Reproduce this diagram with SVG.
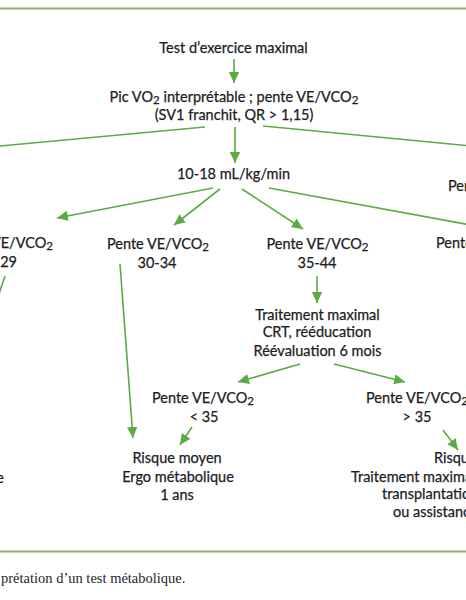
<svg xmlns="http://www.w3.org/2000/svg" width="466" height="600" viewBox="0 0 466 600">
<style>
.t{font-family:Lato,"Open Sans","Noto Sans",sans-serif;font-size:14.5px;fill:#1c1c24;stroke:#1c1c24;stroke-width:0.25;text-anchor:middle}
.s{text-anchor:start}
.e{text-anchor:end}
.sub{font-size:11.5px}
.c{fill:none;stroke:#5aab45;stroke-width:1.6}
.rule{stroke:#8cac62;stroke-width:2}
.cap{font-family:"Liberation Serif","DejaVu Serif",serif;font-size:14.5px;fill:#262626}
</style>
<defs>
<marker id="ah" markerUnits="userSpaceOnUse" markerWidth="12" markerHeight="12" viewBox="0 0 12 12" refX="11" refY="6" orient="auto">
<path d="M0,0.8 L11,6 L0,11.2 Z" fill="#5aab45"/>
</marker>
</defs>
<rect width="466" height="600" fill="#ffffff"/>
<line class="rule" x1="0" y1="8.5" x2="466" y2="8.5"/>
<line class="rule" x1="0" y1="551.5" x2="466" y2="551.5"/>

<g id="connectors">
<line class="c" x1="234" y1="59" x2="234" y2="83" marker-end="url(#ah)"/>
<line class="c" x1="205" y1="127" x2="-5" y2="146.5"/>
<line class="c" x1="263" y1="126" x2="471" y2="146"/>
<line class="c" x1="235" y1="127" x2="235" y2="163" marker-end="url(#ah)"/>
<line class="c" x1="213" y1="188" x2="57" y2="218" marker-end="url(#ah)"/>
<line class="c" x1="220" y1="189" x2="174" y2="225" marker-end="url(#ah)"/>
<line class="c" x1="242" y1="189" x2="303" y2="229" marker-end="url(#ah)"/>
<line class="c" x1="269" y1="188" x2="471" y2="225"/>
<line class="c" x1="5" y1="276" x2="-2" y2="297"/>
<line class="c" x1="120" y1="264" x2="133" y2="438" marker-end="url(#ah)"/>
<line class="c" x1="317" y1="276" x2="317" y2="303" marker-end="url(#ah)"/>
<line class="c" x1="300" y1="364" x2="238" y2="382" marker-end="url(#ah)"/>
<line class="c" x1="334" y1="364" x2="405" y2="382" marker-end="url(#ah)"/>
<line class="c" x1="192" y1="427" x2="180" y2="445" marker-end="url(#ah)"/>
<line class="c" x1="443" y1="430" x2="458" y2="450" marker-end="url(#ah)"/>
</g>

<g id="n-test"><text class="t" x="233.5" y="53">Test d’exercice maximal</text></g>
<g id="n-pic">
<text class="t" x="234" y="102">Pic VO<tspan class="sub" dy="2">2</tspan><tspan dy="-2"> interprétable ; pente VE/VCO</tspan><tspan class="sub" dy="2">2</tspan></text>
<text class="t" x="234" y="120">(SV1 franchit, QR &gt; 1,15)</text>
</g>
<g id="n-1018"><text class="t" x="233.5" y="179">10-18 mL/kg/min</text></g>
<g id="n-right-top"><text class="t s" x="448" y="191">Pente VE/VCO<tspan class="sub" dy="2">2</tspan></text></g>
<g id="n-p29">
<text class="t e" x="53" y="248">Pente VE/VCO<tspan class="sub" dy="2">2</tspan></text>
<text class="t e" x="17" y="267">&lt; 29</text>
</g>
<g id="n-p3034">
<text class="t" x="158" y="249">Pente VE/VCO<tspan class="sub" dy="2">2</tspan></text>
<text class="t" x="157" y="268">30-34</text>
</g>
<g id="n-p3544">
<text class="t" x="317.5" y="249">Pente VE/VCO<tspan class="sub" dy="2">2</tspan></text>
<text class="t" x="317" y="268">35-44</text>
</g>
<g id="n-p-right"><text class="t s" x="436" y="248">Pente VE/VCO<tspan class="sub" dy="2">2</tspan></text></g>
<g id="n-trait">
<text class="t" x="317.5" y="320">Traitement maximal</text>
<text class="t" x="317" y="337">CRT, rééducation</text>
<text class="t" x="317.5" y="356">Réévaluation 6 mois</text>
</g>
<g id="n-lt35">
<text class="t" x="203" y="403">Pente VE/VCO<tspan class="sub" dy="2">2</tspan></text>
<text class="t" x="204" y="422">&lt; 35</text>
</g>
<g id="n-gt35">
<text class="t" x="417" y="403">Pente VE/VCO<tspan class="sub" dy="2">2</tspan></text>
<text class="t" x="417" y="422">&gt; 35</text>
</g>
<g id="n-moyen">
<text class="t" x="177" y="463">Risque moyen</text>
<text class="t" x="178" y="482">Ergo métabolique</text>
<text class="t" x="177" y="500">1 ans</text>
</g>
<g id="n-eleve">
<text class="t s" x="434" y="463">Risque élevé</text>
<text class="t s" x="351" y="482">Traitement maximal,</text>
<text class="t s" x="382" y="499">transplantation</text>
<text class="t s" x="393" y="517">ou assistance</text>
</g>
<g id="n-left-bottom"><text class="t e" x="4" y="483">Ergo métabolique</text></g>
<text class="cap" x="1" y="583">prétation d’un test métabolique.</text>
</svg>
